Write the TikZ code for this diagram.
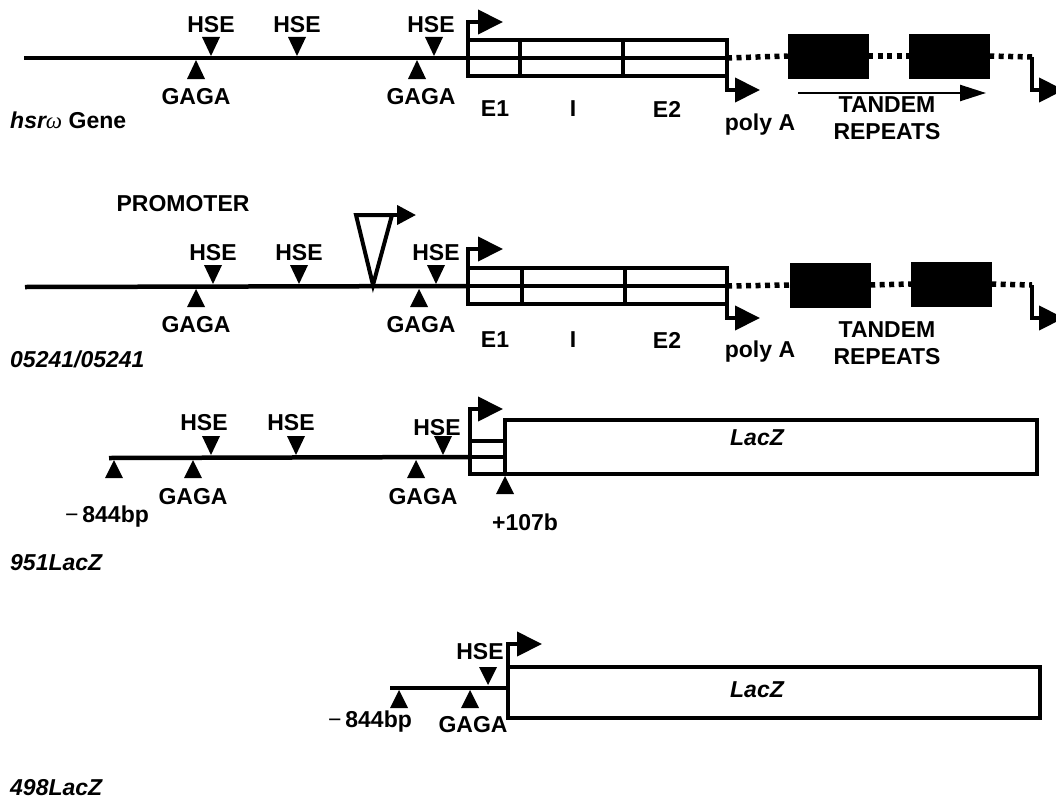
\documentclass[tikz,border=0pt]{standalone}
\usepackage{fontspec}
\setmainfont{Liberation Sans}
\newfontfamily\omegafont{Liberation Serif}
\usetikzlibrary{arrows.meta,positioning}
\tikzset{
  dna/.style   ={line width=4.5pt},
  seg/.style   ={draw,line width=4pt,inner sep=0pt,outer sep=0pt},
  rep/.style   ={draw,fill=black,inner sep=0pt,minimum width=80pt,minimum height=44pt},
  gap/.style   ={line width=5.5pt,dash pattern=on 5pt off 4.5pt},
  tss/.style   ={line width=4pt,-{Triangle[length=25pt,width=24pt]}},
  ins/.style   ={line width=4pt,-{Triangle[length=19pt,width=19pt]}},
  rpt/.style   ={line width=2.4pt,-{Triangle[length=26pt,width=16pt]}},
  lbl/.style   ={font=\fontsize{23}{27}\selectfont\bfseries,inner sep=0pt},
  tag/.style   ={lbl,font=\fontsize{23}{27}\selectfont\bfseries\itshape,anchor=west},
}

\begin{document}
\begin{tikzpicture}[x=1pt,y=-1pt]
\useasboundingbox (0,0) rectangle (1056,800);
\clip (0,0) rectangle (1056,800);

% hsr-omega gene
\coordinate (s1) at (24,58);
\node[seg,anchor=west,minimum width=259pt,minimum height=36pt] (tx1) at (468,58) {};
\draw[dna] (s1) -- (tx1.west);
\draw[line width=4pt] (tx1.west) -- (tx1.east);
\foreach \d in {52,155}
  \draw[line width=4pt] ([xshift=\d pt]tx1.north west) -- ([xshift=\d pt]tx1.south west);
\node[rep] (ra1) at (828,56) {};
\node[rep] (rb1) at (949,56) {};
\coordinate (e1) at (1032,57);
\draw[gap] (tx1.east) -- (ra1.west);
\draw[gap] (ra1.east) -- (rb1.west);
\draw[gap] (rb1.east) -- (e1);
\foreach \x in {211,297,434} \fill (\x-9,37) -- (\x+9,37) -- (\x,56) -- cycle;
\foreach \x in {196,417} \fill (\x,60) -- (\x+9,79) -- (\x-9,79) -- cycle;
\coordinate (t1) at (503,22);
\coordinate (p1) at (760,90);
\coordinate (z1) at (1064,90);
\draw[tss] (tx1.north west) |- (t1);
\draw[tss] (tx1.east) |- (p1);
\draw[tss] (e1) |- (z1);
\coordinate (qa1) at (798,93);
\coordinate (qb1) at (986,93);
\draw[rpt] (qa1) -- (qb1);
\foreach \x/\n in {211/a,297/b,431/c} \node[lbl] (hse1\n) at (\x,25) {HSE};
\foreach \x/\n in {196/a,421/b} \node[lbl] (gaga1\n) at (\x,97) {GAGA};
\node[lbl] (ex1a) at (495,109) {E1};
\node[lbl] (in1) at (573,109) {I};
\node[lbl] (ex1b) at (667,109) {E2};
\node[lbl] (pa1) at (760,125) {poly A};
\node[lbl,align=center] (tr1) at (887,118) {TANDEM\\REPEATS};
\node[lbl,anchor=west] (nm1) at (10,120) {\itshape hsr{\omegafont\mdseries\itshape ω}\upshape{} Gene};

% 05241 insertion
\coordinate (s2) at (25,287);
\node[seg,anchor=west,minimum width=259pt,minimum height=36pt] (tx2) at (468,286) {};
\draw[dna] (s2) -- (tx2.west);
\draw[line width=4pt] (tx2.west) -- (tx2.east);
\foreach \d in {54,157}
  \draw[line width=4pt] ([xshift=\d pt]tx2.north west) -- ([xshift=\d pt]tx2.south west);
\node[rep] (ra2) at (830,285) {};
\node[rep] (rb2) at (951,284) {};
\coordinate (e2) at (1032,285);
\draw[gap] (tx2.east) -- (ra2.west);
\draw[gap] (ra2.east) -- (rb2.west);
\draw[gap] (rb2.east) -- (e2);
\foreach \x in {213,299,436} \fill (\x-9,265) -- (\x+9,265) -- (\x,284) -- cycle;
\foreach \x in {196,419} \fill (\x,289) -- (\x+9,307) -- (\x-9,307) -- cycle;
\draw[line width=4pt,line join=miter] (356,215) -- (392,215) -- (373,285) -- cycle;
\coordinate (k2) at (416,215);
\draw[ins] (392,215) -- (k2);
\coordinate (t2) at (503,249);
\coordinate (p2) at (760,318);
\coordinate (z2) at (1064,318);
\draw[tss] (tx2.north west) |- (t2);
\draw[tss] (tx2.east) |- (p2);
\draw[tss] (e2) |- (z2);
\node[lbl] (prom) at (183,204) {PROMOTER};
\foreach \x/\n in {213/a,299/b,436/c} \node[lbl] (hse2\n) at (\x,253) {HSE};
\foreach \x/\n in {196/a,421/b} \node[lbl] (gaga2\n) at (\x,325) {GAGA};
\node[lbl] (ex2a) at (495,340) {E1};
\node[lbl] (in2) at (573,340) {I};
\node[lbl] (ex2b) at (667,340) {E2};
\node[lbl] (pa2) at (760,352) {poly A};
\node[lbl,align=center] (tr2) at (887,343) {TANDEM\\REPEATS};
\node[tag] (nm2) at (10,359) {05241/05241};

% 951LacZ
\coordinate (s3) at (109,458);
\node[seg,anchor=west,minimum width=35pt,minimum height=33pt] (sb3) at (470,457) {};
\node[seg,anchor=south west,minimum width=532pt,minimum height=54pt] (lz3) at (sb3.south east) {};
\draw[dna] (s3) -- (sb3.west);
\draw[line width=4pt] (sb3.west) -- (sb3.east);
\foreach \x in {211,296,443} \fill (\x-9,436) -- (\x+9,436) -- (\x,455) -- cycle;
\foreach \x in {114,193,416} \fill (\x,460) -- (\x+9,478) -- (\x-9,478) -- cycle;
\fill (505,476) -- (514,494) -- (496,494) -- cycle;
\coordinate (t3) at (503,409);
\draw[tss] (sb3.north west) |- (t3);
\foreach \x/\y/\n in {204/423/a,291/423/b,437/428/c} \node[lbl] (hse3\n) at (\x,\y) {HSE};
\foreach \x/\n in {193/a,423/b} \node[lbl] (gaga3\n) at (\x,497) {GAGA};
\node[lbl] (bp3) at (107,517) {{\mdseries −}\,844bp};
\node[lbl] (pl3) at (525,522) {+107b};
\node[lbl,font=\fontsize{23}{27}\selectfont\bfseries\itshape] (lzt3) at (757,438) {LacZ};
\node[tag] (nm3) at (10,563) {951LacZ};

% 498LacZ
\coordinate (s4) at (390,688);
\node[seg,anchor=north west,minimum width=532pt,minimum height=51pt] (lz4) at (508,667) {};
\draw[dna] (s4) -- (s4 -| lz4.west);
\foreach \x in {399,470} \fill (\x,690) -- (\x+9,708) -- (\x-9,708) -- cycle;
\fill (479,667) -- (497,667) -- (488,685) -- cycle;
\coordinate (t4) at (542,644);
\draw[tss] (lz4.north west) |- (t4);
\node[lbl] (hse4) at (480,652) {HSE};
\node[lbl] (gaga4) at (473,725) {GAGA};
\node[lbl] (bp4) at (370,722) {{\mdseries −}\,844bp};
\node[lbl,font=\fontsize{23}{27}\selectfont\bfseries\itshape] (lzt4) at (757,690) {LacZ};
\node[tag] (nm4) at (10,788) {498LacZ};
\end{tikzpicture}
\end{document}
